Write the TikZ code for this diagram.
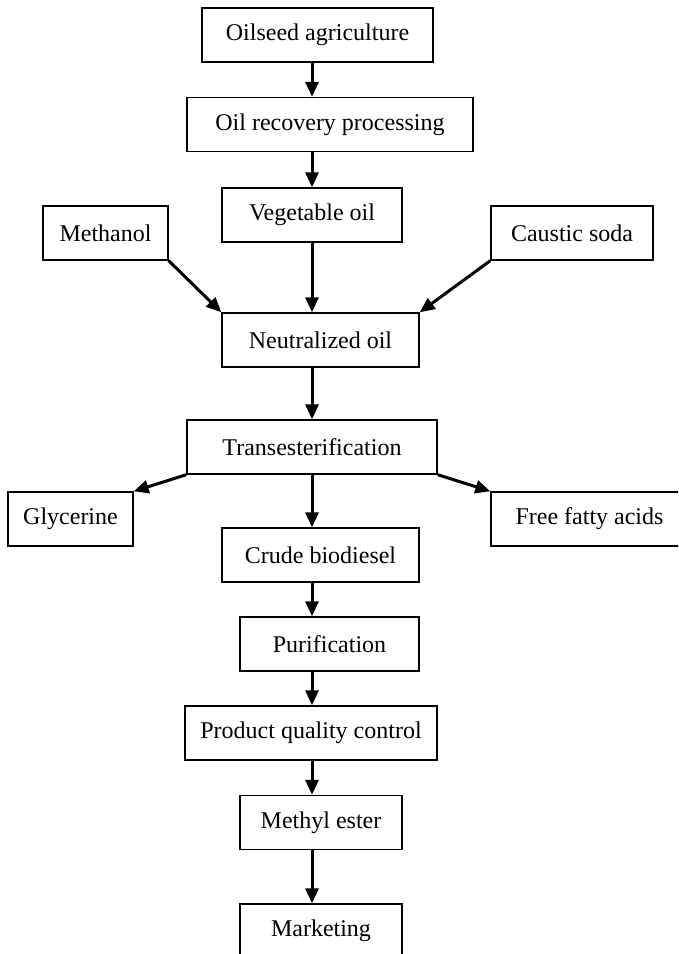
\documentclass[tikz,border=0pt]{standalone}
\usepackage{fontspec}
\setmainfont{Liberation Serif}
\usepackage{tikz}
\usetikzlibrary{arrows.meta}

\begin{document}
\begin{tikzpicture}[x=1pt,y=-1pt,
  font=\fontsize{24}{28}\selectfont,
  box/.style={draw,line width=1.4pt,inner sep=0pt,minimum height=54pt,align=center},
  arr/.style={-{Triangle[length=15pt,width=13pt]},line width=3pt}]
\clip (0,0) rectangle (678,954);
\coordinate (spine) at (312,0);
\node[box,minimum width=231pt] (seed) at (317.5,35) {Oilseed agriculture};
\node[box,minimum width=286pt] (rec) at (330,124.5) {Oil recovery processing};
\node[box,minimum width=180pt] (veg) at (312,215) {Vegetable oil};
\node[box,minimum width=125pt] (meoh) at (105.5,233) {Methanol};
\node[box,minimum width=162pt] (naoh) at (572,233) {Caustic soda};
\node[box,minimum width=197pt] (neu) at (320.5,340) {Neutralized oil};
\node[box,minimum width=250pt] (tre) at (312,447) {Transesterification};
\node[box,minimum width=125pt] (gly) at (70.5,519) {Glycerine};
\node[box,minimum width=197pt] (ffa) at (589.5,519) {Free fatty acids};
\node[box,minimum width=197pt] (crd) at (320.5,555) {Crude biodiesel};
\node[box,minimum width=179pt] (pur) at (329.5,644) {Purification};
\node[box,minimum width=252pt] (pqc) at (311,733) {Product quality control};
\node[box,minimum width=162pt] (mes) at (321,822.5) {Methyl ester};
\node[box,minimum width=162pt] (mkt) at (321,931) {Marketing};
% main line
\draw[arr] (seed.south -| spine)--(rec.north -| spine);
\draw[arr] (rec.south -| spine)--(veg.north -| spine);
\draw[arr] (veg.south -| spine)--(neu.north -| spine);
\draw[arr] (neu.south -| spine)--(tre.north -| spine);
\draw[arr] (tre.south -| spine)--(crd.north -| spine);
\draw[arr] (crd.south -| spine)--(pur.north -| spine);
\draw[arr] (pur.south -| spine)--(pqc.north -| spine);
\draw[arr] (pqc.south -| spine)--(mes.north -| spine);
\draw[arr] (mes.south -| spine)--(mkt.north -| spine);
% side inputs and outputs
\draw[arr] (meoh.south east)--(neu.north west);
\draw[arr] (naoh.south west)--(neu.north east);
\draw[arr] (tre.south west)--(gly.north east);
\draw[arr] (tre.south east)--(ffa.north west);
\end{tikzpicture}
\end{document}
